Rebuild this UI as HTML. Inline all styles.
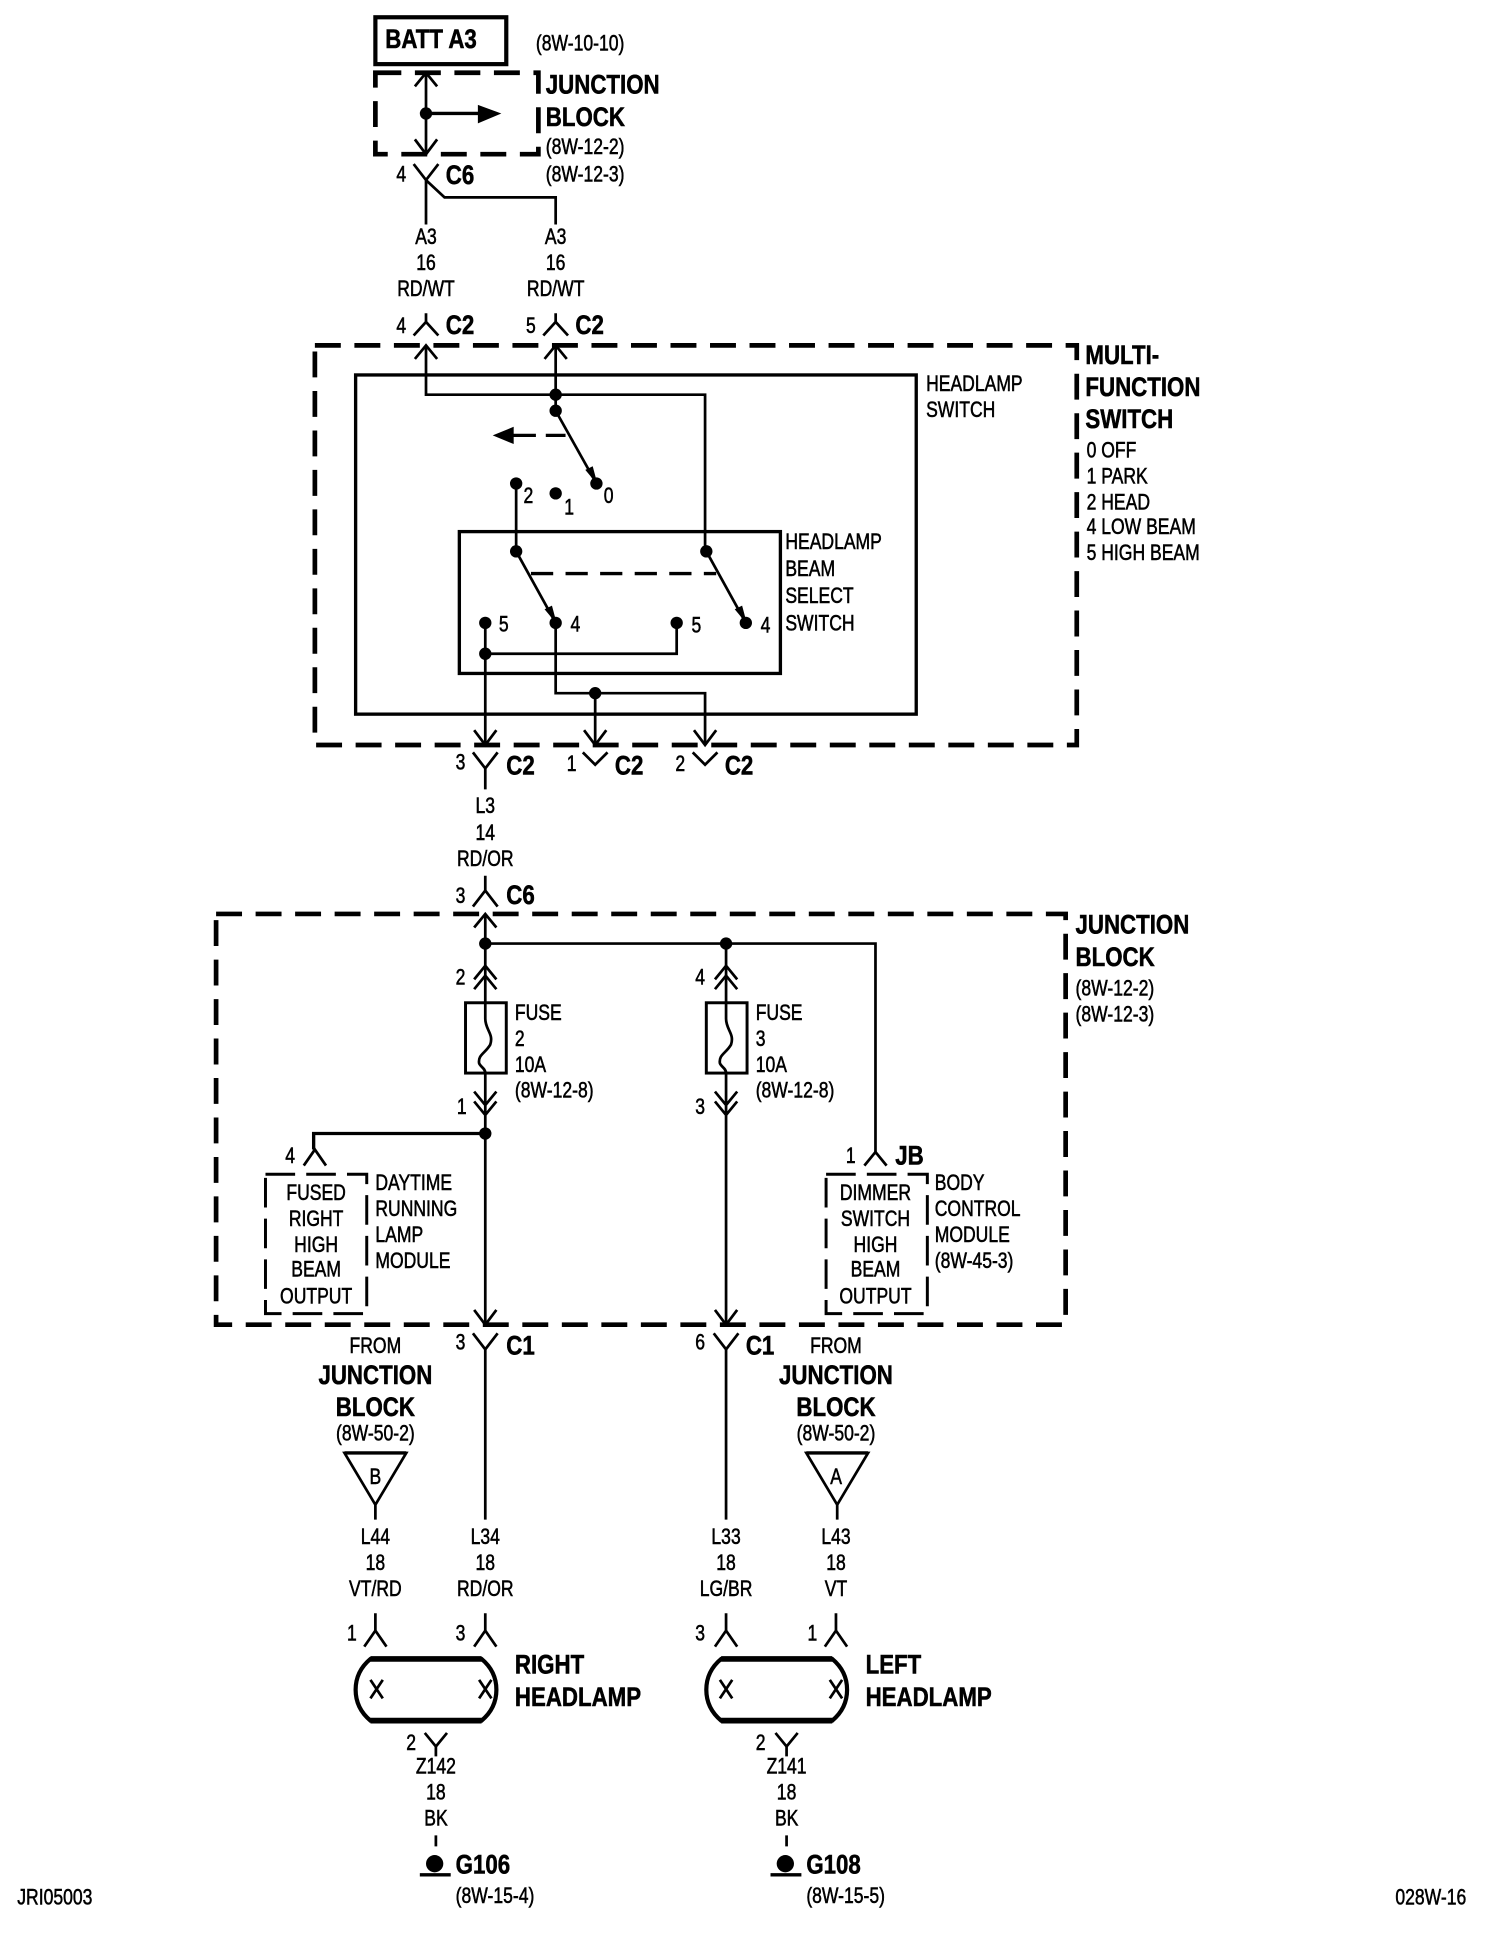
<!DOCTYPE html>
<html><head><meta charset="utf-8"><title>Headlamp wiring diagram</title>
<style>
html,body{margin:0;padding:0;background:#fff}
svg{display:block}
text{font-family:"Liberation Sans",sans-serif;fill:#000;transform-box:fill-box}
.s,.c{font-size:18px;stroke:#000;stroke-width:.45}
.b,.bc{font-size:22px;font-weight:bold;stroke:#000;stroke-width:.45}
.s,.b{transform-origin:left center}
.c,.bc{text-anchor:middle;transform-origin:center center}
.s,.c{transform:scaleX(.79)}
.b,.bc{transform:scaleX(.82)}
.w{fill:none;stroke:#000;stroke-width:2.2}
.t{fill:none;stroke:#000;stroke-width:2.7}
.d{fill:none;stroke:#000;stroke-width:3.8;stroke-dasharray:21 11}
.d2{fill:none;stroke:#000;stroke-width:2.4;stroke-dasharray:24 9}
</style></head><body>
<svg xmlns="http://www.w3.org/2000/svg" width="1504" height="1934" viewBox="0 0 1218 1568" preserveAspectRatio="none">
<rect width="1218" height="1568" fill="#fff"/>
<!-- Top -->
<rect x="304" y="14" width="106" height="38" fill="none" stroke="#000" stroke-width="3.4"/>
<text class="b" x="312" y="39">BATT A3</text>
<text class="s" x="434" y="41">(8W-10-10)</text>
<rect x="304" y="59" width="132" height="66" class="d"/>
<text class="b" x="442" y="76">JUNCTION</text>
<text class="b" x="442" y="102">BLOCK</text>
<text class="s" x="442" y="125">(8W-12-2)</text>
<text class="s" x="442" y="147">(8W-12-3)</text>
<path class="w" d="M345 59V125M336 70L345 59L354 70M336 113L345 125L354 113"/>
<circle cx="345" cy="92" r="5"/>
<path class="t" d="M345 92H388"/><path d="M387 85L406 92L387 100Z"/>
<path class="w" d="M335 133L345 146L355 133M345 146V182M345 146L360 160H450V182"/>
<text class="s" x="321" y="147">4</text>
<text class="b" x="361" y="149">C6</text>
<text class="c" x="345" y="198">A3</text><text class="c" x="345" y="219">16</text><text class="c" x="345" y="240">RD/WT</text>
<text class="c" x="450" y="198">A3</text><text class="c" x="450" y="219">16</text><text class="c" x="450" y="240">RD/WT</text>
<path class="w" d="M345 254V262M335 272L345 261L355 272M450 254V262M440 272L450 261L460 272"/>
<text class="s" x="321" y="270">4</text><text class="b" x="361" y="271">C2</text>
<text class="s" x="426" y="270">5</text><text class="b" x="466" y="271">C2</text>
<!-- Multi-function switch -->
<rect x="255" y="280" width="617" height="324" class="d"/>
<rect x="288" y="304" width="454" height="275" class="t"/>
<text class="b" x="879" y="295">MULTI-</text>
<text class="b" x="879" y="321">FUNCTION</text>
<text class="b" x="879" y="347">SWITCH</text>
<text class="s" x="880" y="371">0 OFF</text>
<text class="s" x="880" y="392">1 PARK</text>
<text class="s" x="880" y="413">2 HEAD</text>
<text class="s" x="880" y="433">4 LOW BEAM</text>
<text class="s" x="880" y="454">5 HIGH BEAM</text>
<text class="s" x="750" y="317">HEADLAMP</text>
<text class="s" x="750" y="338">SWITCH</text>
<path class="w" d="M345 280V320H571V447M336 291L345 280L354 291M450 280V333M441 291L450 280L459 291"/>
<circle cx="450" cy="320" r="5"/><circle cx="450" cy="333" r="5"/>
<path class="w" d="M450 333L483 392"/><path d="M474 381L484 393L480 378Z"/>
<circle cx="483" cy="392" r="5"/>
<path d="M399 353L416 346V360Z"/><path class="t" d="M414 353H434M442 353H458"/>
<circle cx="418" cy="392" r="5"/><circle cx="450" cy="400" r="5"/>
<path class="w" d="M418 392V447"/>
<text class="s" x="424" y="408">2</text><text class="s" x="457" y="417">1</text><text class="s" x="489" y="408">0</text>
<rect x="372" y="431" width="260" height="115" class="t"/>
<text class="s" x="636" y="445">HEADLAMP</text><text class="s" x="636" y="467">BEAM</text>
<text class="s" x="636" y="489">SELECT</text><text class="s" x="636" y="511">SWITCH</text>
<circle cx="418" cy="447" r="5"/><circle cx="572" cy="447" r="5"/>
<path class="w" d="M418 447L450 505M572 447L604 505"/>
<path d="M441 494L451 506L447 491Z M595 494L605 506L601 491Z"/>
<path class="t" d="M430 465H580" stroke-dasharray="18 10"/>
<circle cx="393" cy="505" r="5"/><circle cx="450" cy="505" r="5"/><circle cx="548" cy="505" r="5"/><circle cx="604" cy="505" r="5"/>
<text class="s" x="404" y="512">5</text><text class="s" x="462" y="512">4</text><text class="s" x="560" y="513">5</text><text class="s" x="616" y="513">4</text>
<circle cx="393" cy="530" r="5"/><circle cx="482" cy="562" r="5"/>
<path class="w" d="M393 505V604M393 530H548V505M450 505V562H571V604M482 562V604"/>
<path class="w" d="M384 592L393 604L402 592M473 592L482 604L491 592M562 592L571 604L580 592"/>
<path class="w" d="M383 610L393 623L403 610M393 623V640M472 610L482 620L492 610M561 610L571 620L581 610"/>
<text class="s" x="369" y="624">3</text><text class="b" x="410" y="628">C2</text>
<text class="s" x="459" y="625">1</text><text class="b" x="498" y="628">C2</text>
<text class="s" x="547" y="625">2</text><text class="b" x="587" y="628">C2</text>
<text class="c" x="393" y="659">L3</text><text class="c" x="393" y="681">14</text><text class="c" x="393" y="702">RD/OR</text>
<path class="w" d="M393 710V722M383 735L393 722L403 735"/>
<text class="s" x="369" y="732">3</text><text class="b" x="410" y="733">C6</text>
<!-- Junction block -->
<rect x="175" y="741" width="688" height="333" class="d"/>
<text class="b" x="871" y="757">JUNCTION</text><text class="b" x="871" y="783">BLOCK</text>
<text class="s" x="871" y="807">(8W-12-2)</text><text class="s" x="871" y="828">(8W-12-3)</text>
<path class="w" d="M393 741V812M384 752L393 741L402 752M393 765H709V936"/>
<circle cx="393" cy="765" r="5"/><circle cx="588" cy="765" r="5"/>
<path class="w" d="M588 765V812"/>
<path class="w" d="M384 794L393 783L402 794M384 802L393 791L402 802M579 794L588 783L597 794M579 802L588 791L597 802"/>
<text class="s" x="369" y="798">2</text><text class="s" x="563" y="798">4</text>
<rect x="377" y="813" width="33" height="57" fill="none" stroke="#000" stroke-width="2.4"/><rect x="572" y="813" width="33" height="57" fill="none" stroke="#000" stroke-width="2.4"/>
<path class="w" d="M393 813V826C393 835 400 838 397 847C393 854 387 855 388 862C389 865 393 866 393 870M588 813V826C588 835 595 838 592 847C588 854 582 855 583 862C584 865 588 866 588 870" stroke-width="1.8"/>
<text class="s" x="417" y="827">FUSE</text><text class="s" x="417" y="848">2</text><text class="s" x="417" y="869">10A</text><text class="s" x="417" y="890">(8W-12-8)</text>
<text class="s" x="612" y="827">FUSE</text><text class="s" x="612" y="848">3</text><text class="s" x="612" y="869">10A</text><text class="s" x="612" y="890">(8W-12-8)</text>
<path class="w" d="M393 870V1074M384 885L393 896L402 885M384 893L393 904L402 893M588 870V1074M579 885L588 896L597 885M579 893L588 904L597 893"/>
<text class="s" x="370" y="903">1</text><text class="s" x="563" y="903">3</text>
<circle cx="393" cy="919" r="5"/>
<path class="t" d="M393 919H254V932"/>
<path class="w" d="M246 945L255 932L264 945M700 945L709 934L718 945"/>
<path class="w" d="M384 1062L393 1074L402 1062M579 1062L588 1074L597 1062"/>
<text class="s" x="231" y="943">4</text><text class="s" x="685" y="943">1</text><text class="b" x="725" y="944">JB</text>
<rect x="215" y="952" width="82" height="113" class="d2"/><rect x="669" y="952" width="82" height="113" class="d2"/>
<text class="c" x="256" y="973">FUSED</text><text class="c" x="256" y="994">RIGHT</text><text class="c" x="256" y="1015">HIGH</text><text class="c" x="256" y="1035">BEAM</text><text class="c" x="256" y="1057">OUTPUT</text>
<text class="c" x="709" y="973">DIMMER</text><text class="c" x="709" y="994">SWITCH</text><text class="c" x="709" y="1015">HIGH</text><text class="c" x="709" y="1035">BEAM</text><text class="c" x="709" y="1057">OUTPUT</text>
<text class="s" x="304" y="965">DAYTIME</text><text class="s" x="304" y="986">RUNNING</text><text class="s" x="304" y="1007">LAMP</text><text class="s" x="304" y="1028">MODULE</text>
<text class="s" x="757" y="965">BODY</text><text class="s" x="757" y="986">CONTROL</text><text class="s" x="757" y="1007">MODULE</text><text class="s" x="757" y="1028">(8W-45-3)</text>
<!-- C1 -->
<path class="w" d="M383 1081L393 1094L403 1081M393 1094V1232M578 1081L588 1094L598 1081M588 1094V1232"/>
<text class="s" x="369" y="1094">3</text><text class="b" x="410" y="1098">C1</text>
<text class="s" x="563" y="1094">6</text><text class="b" x="604" y="1098">C1</text>
<text class="c" x="304" y="1097">FROM</text><text class="bc" x="304" y="1122">JUNCTION</text><text class="bc" x="304" y="1148">BLOCK</text><text class="c" x="304" y="1168">(8W-50-2)</text>
<text class="c" x="677" y="1097">FROM</text><text class="bc" x="677" y="1122">JUNCTION</text><text class="bc" x="677" y="1148">BLOCK</text><text class="c" x="677" y="1168">(8W-50-2)</text>
<path class="w" d="M279 1178H329L304 1220ZM304 1220V1232M653 1178H703L678 1220ZM678 1220V1232"/>
<path class="t" d="M279 1178H329M653 1178H703"/>
<text class="c" x="304" y="1203" style="font-size:18px">B</text><text class="c" x="677" y="1203" style="font-size:18px">A</text>
<text class="c" x="304" y="1252">L44</text><text class="c" x="304" y="1273">18</text><text class="c" x="304" y="1294">VT/RD</text>
<text class="c" x="393" y="1252">L34</text><text class="c" x="393" y="1273">18</text><text class="c" x="393" y="1294">RD/OR</text>
<text class="c" x="588" y="1252">L33</text><text class="c" x="588" y="1273">18</text><text class="c" x="588" y="1294">LG/BR</text>
<text class="c" x="677" y="1252">L43</text><text class="c" x="677" y="1273">18</text><text class="c" x="677" y="1294">VT</text>
<path class="w" d="M304 1308V1322M295 1335L304 1322L313 1335M393 1308V1322M384 1335L393 1322L402 1335M588 1308V1322M579 1335L588 1322L597 1335M677 1308V1322M668 1335L677 1322L686 1335"/>
<text class="s" x="281" y="1330">1</text><text class="s" x="369" y="1330">3</text><text class="s" x="563" y="1330">3</text><text class="s" x="654" y="1330">1</text>
<!-- Lamps -->
<path d="M300 1345H390Q402 1355 402 1370Q402 1385 390 1395H300Q288 1385 288 1370Q288 1355 300 1345Z" fill="none" stroke="#000" stroke-width="3.4"/>
<path d="M584 1345H674Q686 1355 686 1370Q686 1385 674 1395H584Q572 1385 572 1370Q572 1355 584 1345Z" fill="none" stroke="#000" stroke-width="3.4"/>
<path d="M300 1345H390M300 1395H390M584 1345H674M584 1395H674" fill="none" stroke="#000" stroke-width="4.6"/>
<path class="w" d="M300 1362L310 1377M310 1362L300 1377M388 1362L398 1377M398 1362L388 1377M583 1362L593 1377M593 1362L583 1377M672 1362L682 1377M682 1362L672 1377"/>
<text class="b" x="417" y="1357">RIGHT</text><text class="b" x="417" y="1383">HEADLAMP</text>
<text class="b" x="701" y="1357">LEFT</text><text class="b" x="701" y="1383">HEADLAMP</text>
<path class="w" d="M344 1405L353 1416L362 1405M353 1416V1424M628 1405L637 1416L646 1405M637 1416V1424"/>
<text class="s" x="329" y="1419">2</text><text class="s" x="612" y="1419">2</text>
<text class="c" x="353" y="1438">Z142</text><text class="c" x="353" y="1459">18</text><text class="c" x="353" y="1480">BK</text>
<text class="c" x="637" y="1438">Z141</text><text class="c" x="637" y="1459">18</text><text class="c" x="637" y="1480">BK</text>
<path class="w" d="M353 1488V1497M637 1488V1497"/>
<circle cx="352" cy="1511" r="7"/><circle cx="636" cy="1511" r="7"/>
<path class="t" d="M340 1520H365M624 1520H649"/>
<text class="b" x="369" y="1519">G106</text><text class="b" x="653" y="1519">G108</text>
<text class="s" x="369" y="1543">(8W-15-4)</text><text class="s" x="653" y="1543">(8W-15-5)</text>
<text class="s" x="14" y="1544">JRI05003</text><text class="s" x="1130" y="1544">028W-16</text>
</svg>
</body></html>
